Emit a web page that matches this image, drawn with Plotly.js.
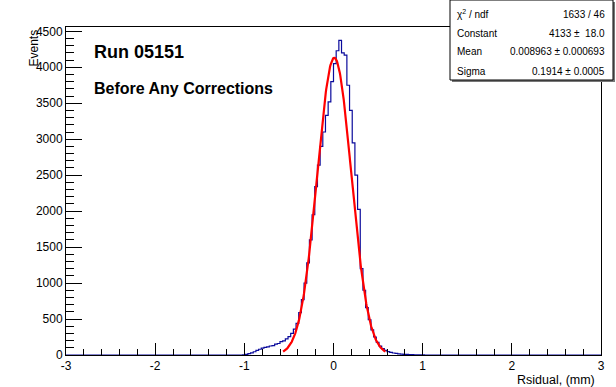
<!DOCTYPE html>
<html>
<head>
<meta charset="utf-8">
<script src="https://cdn.plot.ly/plotly-3.0.1.min.js"></script>
<style>
  html, body { margin: 0; padding: 0; background: #ffffff; }
  #chart { width: 616px; height: 387px; }
</style>
</head>
<body>
<div id="chart"></div>
<script>
// ---- data ----
// histogram: bins of width 0.03 starting at -1.02 (all other bins are empty)
var binStart = -1.02;
var binWidth = 0.03;
var counts = [
  2, 8, 18, 30, 45, 65, 80, 95, 105,
  112, 125, 130, 150, 160, 185, 195, 225, 255, 300,
  360, 440, 590, 770, 1000, 1280, 1600, 1950, 2340, 2640,
  2900, 3100, 3330, 3520, 3800, 4050, 4230, 4375, 4200, 4170,
  3750, 3400, 2950, 2500, 2025, 1200, 900, 660, 490, 350,
  250, 175, 125, 90, 65, 48, 36, 28, 22, 17,
  13, 10, 8, 6, 4, 3, 2, 1, 1, 0
];
// Gaussian fit parameters (from the stats box)
var fitConstant = 4133;
var fitMean = 0.008963;
var fitSigma = 0.1914;
var fitRange = [-0.565, 0.583];
// stats box
var statLabels = ["χ<sup>2</sup> / ndf", "Constant", "Mean", "Sigma"];
var statValues = ["1633 / 46", "4133 ±  18.0", "0.008963 ± 0.000693", "0.1914 ± 0.0005"];
var xTicks = [-3, -2, -1, 0, 1, 2, 3];
var yTicks = [0, 500, 1000, 1500, 2000, 2500, 3000, 3500, 4000, 4500];

// ---- build traces ----
var hx = [-3], hy = [0];
for (var i = 0; i < counts.length; i++) {
  hx.push(binStart + i * binWidth);
  hy.push(counts[i]);
}
hx.push(binStart + counts.length * binWidth); hy.push(0);
hx.push(3); hy.push(0);

var fx = [], fy = [];
var N = 240;
for (var k = 0; k <= N; k++) {
  var x = fitRange[0] + (fitRange[1] - fitRange[0]) * k / N;
  fx.push(x);
  fy.push(fitConstant * Math.exp(-0.5 * Math.pow((x - fitMean) / fitSigma, 2)));
}

var histTrace = {
  x: hx, y: hy, type: 'scatter', mode: 'lines',
  line: { shape: 'hv', color: '#0a0a9c', width: 1.2 },
  hoverinfo: 'skip', showlegend: false
};
var fitTrace = {
  x: fx, y: fy, type: 'scatter', mode: 'lines',
  line: { color: '#ff0000', width: 2.2 },
  hoverinfo: 'skip', showlegend: false
};

// ---- pixel helpers for paper coordinates ----
var L = 66, R = 601, T = 27, B = 355;
function PX(px) { return (px - L) / (R - L); }
function PY(py) { return (B - py) / (B - T); }

var font = 'Liberation Sans, Arial, Helvetica, sans-serif';
var annotations = [
  { text: '<b>Run 05151</b>', x: PX(92), y: PY(52), xref: 'paper', yref: 'paper',
    xanchor: 'left', yanchor: 'middle', showarrow: false,
    font: { family: font, size: 18, color: '#000' } },
  { text: '<b>Before Any Corrections</b>', x: PX(92), y: PY(88), xref: 'paper', yref: 'paper',
    xanchor: 'left', yanchor: 'middle', showarrow: false,
    font: { family: font, size: 16, color: '#000' } },
  { text: 'Events', x: PX(33), y: PY(28), xref: 'paper', yref: 'paper',
    xanchor: 'center', yanchor: 'top', textangle: -90, showarrow: false,
    font: { family: font, size: 12, color: '#000' } },
  { text: 'Rsidual, (mm)', x: PX(597), y: PY(380), xref: 'paper', yref: 'paper',
    xanchor: 'right', yanchor: 'middle', showarrow: false,
    font: { family: font, size: 12.5, color: '#000' } }
];
var rowY = [14, 33, 52, 71];
for (var r = 0; r < statLabels.length; r++) {
  annotations.push({ text: statLabels[r], x: PX(455), y: PY(rowY[r]), xref: 'paper', yref: 'paper',
    xanchor: 'left', yanchor: 'middle', showarrow: false,
    font: { family: font, size: 10, color: '#000' } });
  annotations.push({ text: statValues[r], x: PX(607), y: PY(rowY[r]), xref: 'paper', yref: 'paper',
    xanchor: 'right', yanchor: 'middle', showarrow: false,
    font: { family: font, size: 10, color: '#000' } });
}

var shapes = [
  // shadow of stats box
  { type: 'rect', xref: 'paper', yref: 'paper', x0: PX(452), x1: PX(615), y0: PY(82), y1: PY(2),
    line: { width: 0 }, fillcolor: '#777777', layer: 'above' },
  { type: 'rect', xref: 'paper', yref: 'paper', x0: PX(450), x1: PX(613), y0: PY(80), y1: PY(0),
    line: { width: 1, color: '#000' }, fillcolor: '#ffffff', layer: 'above' }
];

var layout = {
  width: 616, height: 387,
  margin: { l: L, r: 616 - R, t: T, b: 387 - B, pad: 0 },
  paper_bgcolor: '#ffffff', plot_bgcolor: '#ffffff',
  showlegend: false,
  xaxis: {
    range: [-3, 3], tickvals: xTicks, ticktext: xTicks.map(String),
    ticks: 'inside', ticklen: 12, tickwidth: 1, tickcolor: '#000',
    minor: { dtick: 0.2, tick0: 0, ticks: 'inside', ticklen: 6, tickcolor: '#000', showgrid: false },
    showline: true, linecolor: '#000', linewidth: 1, mirror: true,
    showgrid: false, zeroline: false,
    tickfont: { family: font, size: 12, color: '#000' }
  },
  yaxis: {
    range: [0, 4560], tickvals: yTicks, ticktext: yTicks.map(String),
    ticks: 'inside', ticklen: 16, tickwidth: 1, tickcolor: '#000',
    minor: { dtick: 100, tick0: 0, ticks: 'inside', ticklen: 8, tickcolor: '#000', showgrid: false },
    showline: true, linecolor: '#000', linewidth: 1, mirror: true,
    showgrid: false, zeroline: false,
    tickfont: { family: font, size: 12, color: '#000' }
  },
  annotations: annotations,
  shapes: shapes
};

Plotly.newPlot('chart', [histTrace, fitTrace], layout, { displayModeBar: false, staticPlot: true });
</script>
</body>
</html>
